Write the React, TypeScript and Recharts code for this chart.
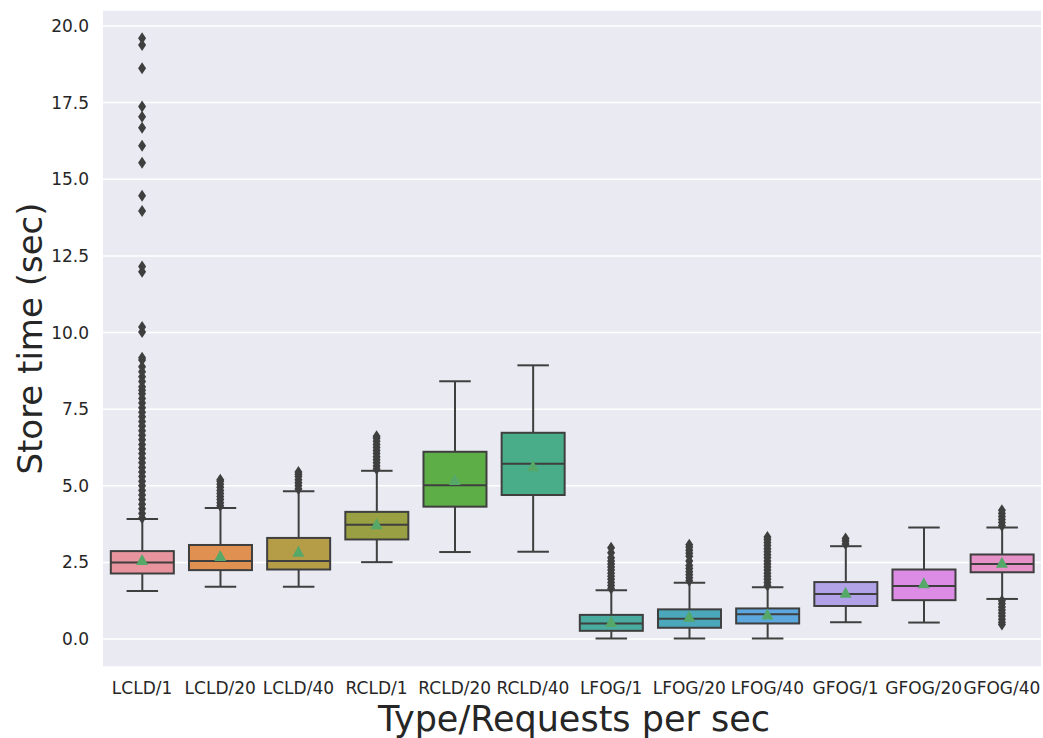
import React from 'react';
import {
  ComposedChart,
  Bar,
  Scatter,
  XAxis,
  YAxis,
  CartesianGrid,
} from 'recharts';

// categories along the x axis
const categories = [
  'LCLD/1', 'LCLD/20', 'LCLD/40',
  'RCLD/1', 'RCLD/20', 'RCLD/40',
  'LFOG/1', 'LFOG/20', 'LFOG/40',
  'GFOG/1', 'GFOG/20', 'GFOG/40',
];

// box statistics per category (seconds)
const whiskerLow = [1.57, 1.71, 1.71, 2.51, 2.84, 2.85, 0.02, 0.02, 0.02, 0.55, 0.54, 1.31];
const q1 = [2.14, 2.25, 2.27, 3.25, 4.32, 4.70, 0.27, 0.37, 0.51, 1.08, 1.27, 2.18];
const median = [2.50, 2.55, 2.55, 3.73, 5.02, 5.72, 0.51, 0.66, 0.81, 1.47, 1.73, 2.45];
const q3 = [2.87, 3.07, 3.30, 4.15, 6.11, 6.73, 0.79, 0.97, 1.00, 1.86, 2.27, 2.76];
const whiskerHigh = [3.92, 4.28, 4.82, 5.49, 8.41, 8.93, 1.59, 1.84, 1.69, 3.03, 3.64, 3.64];
const means = [2.58, 2.71, 2.85, 3.75, 5.19, 5.64, 0.56, 0.73, 0.80, 1.51, 1.82, 2.49];

// fliers per category
const outliers: number[][] = [
  [
    3.95, 4.1, 4.25, 4.4, 4.55, 4.7, 4.85, 5.0, 5.15, 5.3, 5.45, 5.6, 5.75, 5.9,
    6.05, 6.2, 6.35, 6.5, 6.65, 6.8, 6.95, 7.1, 7.25, 7.4, 7.55, 7.7, 7.85, 8.0,
    8.12, 8.23, 8.4, 8.56, 8.72, 8.88, 9.1, 9.18, 10.02, 10.18, 11.98, 12.15,
    13.96, 14.46, 15.54, 16.09, 16.68, 17.04, 17.37, 18.62, 19.38, 19.6,
  ],
  [4.35, 4.45, 4.55, 4.65, 4.75, 4.85, 4.95, 5.05, 5.15, 5.2],
  [4.9, 5.0, 5.1, 5.2, 5.3, 5.38, 5.45],
  [5.55, 5.65, 5.75, 5.85, 5.95, 6.05, 6.15, 6.25, 6.35, 6.45, 6.55, 6.62],
  [],
  [],
  [1.65, 1.75, 1.85, 1.95, 2.05, 2.15, 2.25, 2.35, 2.45, 2.55, 2.65, 2.82, 2.98],
  [1.9, 2.0, 2.1, 2.2, 2.3, 2.4, 2.55, 2.7, 2.8, 2.9, 3.0, 3.08],
  [1.75, 1.85, 1.95, 2.05, 2.15, 2.25, 2.35, 2.45, 2.55, 2.65, 2.75, 2.85, 2.95, 3.05, 3.15, 3.25, 3.33],
  [3.1, 3.2, 3.28],
  [],
  [
    3.7, 3.8, 3.9, 4.0, 4.1, 4.2,
    1.25, 1.15, 1.05, 0.95, 0.85, 0.75, 0.65, 0.55, 0.48,
  ],
];

const boxColors = [
  '#e8949f', '#e09050', '#b59c47', '#99a044', '#5dae47', '#48ad88',
  '#4aab9f', '#4aa8ba', '#5ca8de', '#b2a3e9', '#dd8ce6', '#e691c7',
];

const yTicks = [0, 2.5, 5, 7.5, 10, 12.5, 15, 17.5, 20];

const rows = categories.map((name, i) => ({
  name,
  box: [q1[i], q3[i]],
  lo: whiskerLow[i],
  hi: whiskerHigh[i],
  med: median[i],
  mean: means[i],
  color: boxColors[i],
}));

const fliers = categories.flatMap((name, i) => outliers[i].map((v) => ({ name, v })));

const LINE = '#3f3f3f';
const FONT = '"DejaVu Sans", sans-serif';
const TEXT = '#262626';

// draws box, whiskers, caps and median; the bar's own rect spans q1..q3
function BoxShape(props: any) {
  const { x, y, width, height, payload } = props;
  const top = Math.min(y, y + height);
  const h = Math.abs(height);
  const [lo, hi] = payload.box;
  const unit = h / (hi - lo);
  const bottom = top + h;
  const py = (v: number) => bottom - (v - lo) * unit;
  const cx = x + width / 2;
  const cap = width / 4;
  const yHi = py(payload.hi);
  const yLo = py(payload.lo);
  const yMed = py(payload.med);
  return (
    <g>
      <line x1={cx} x2={cx} y1={top} y2={yHi} stroke={LINE} strokeWidth={2} />
      <line x1={cx} x2={cx} y1={bottom} y2={yLo} stroke={LINE} strokeWidth={2} />
      <line x1={cx - cap} x2={cx + cap} y1={yHi} y2={yHi} stroke={LINE} strokeWidth={2} />
      <line x1={cx - cap} x2={cx + cap} y1={yLo} y2={yLo} stroke={LINE} strokeWidth={2} />
      <rect x={x} y={top} width={width} height={h} fill={payload.color} stroke={LINE} strokeWidth={2} />
      <line x1={x} x2={x + width} y1={yMed} y2={yMed} stroke={LINE} strokeWidth={2} />
    </g>
  );
}

const Triangle = ({ cx, cy }: any) => (
  <path d={`M${cx},${cy - 6} L${cx + 6},${cy + 5} L${cx - 6},${cy + 5} Z`} fill="#55a868" />
);

const Diamond = ({ cx, cy }: any) => (
  <path d={`M${cx},${cy - 6} L${cx + 4},${cy} L${cx},${cy + 6} L${cx - 4},${cy} Z`} fill={LINE} />
);

export default function App() {
  return (
    <div style={{ position: 'absolute', left: 0, top: 0, background: '#fff' }}>
      <ComposedChart
        width={1043}
        height={738}
        data={rows}
        margin={{ top: 10, right: 2, left: 0, bottom: 0 }}
        barCategoryGap="10%"
      >
        <CartesianGrid vertical={false} stroke="#ffffff" strokeWidth={1.5} fill="#eaeaf2" />
        <XAxis
          dataKey="name"
          type="category"
          allowDuplicatedCategory={false}
          interval={0}
          height={71}
          axisLine={false}
          tickLine={false}
          tickSize={0}
          tickMargin={15}
          tick={{ fill: TEXT, fontSize: 17, fontFamily: FONT }}
          label={(p: any) => {
            const vb = p.viewBox;
            return (
              <text
                x={vb.x + vb.width / 2 + 2}
                y={vb.y + 64}
                textAnchor="middle"
                fill={TEXT}
                fontSize={35}
                fontFamily={FONT}
              >
                Type/Requests per sec
              </text>
            );
          }}
        />
        <YAxis
          type="number"
          width={103}
          domain={[-0.91, 20.52]}
          ticks={yTicks}
          allowDataOverflow
          axisLine={false}
          tickLine={false}
          tickSize={0}
          tickMargin={14}
          tickFormatter={(v: number) => v.toFixed(1)}
          tick={{ fill: TEXT, fontSize: 17, fontFamily: FONT }}
          label={(p: any) => {
            const vb = p.viewBox;
            const cy = vb.y + vb.height / 2;
            return (
              <text
                x={30}
                y={cy}
                textAnchor="middle"
                dominantBaseline="central"
                transform={`rotate(-90, 30, ${cy})`}
                fill={TEXT}
                fontSize={34}
                fontFamily={FONT}
              >
                Store time (sec)
              </text>
            );
          }}
        />
        <Bar dataKey="box" shape={BoxShape} isAnimationActive={false} />
        <Scatter data={rows} dataKey="mean" shape={Triangle} isAnimationActive={false} />
        <Scatter data={fliers} dataKey="v" shape={Diamond} isAnimationActive={false} />
      </ComposedChart>
    </div>
  );
}
